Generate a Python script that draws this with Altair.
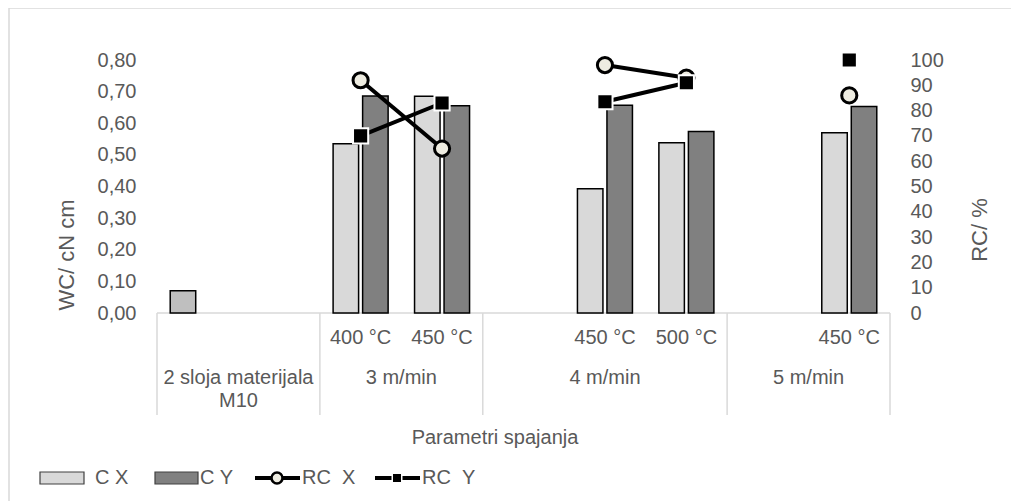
import altair as alt
import pandas as pd

# ---------------- data ----------------
cat_ids = [1, 2, 3, 4, 5, 6, 7, 8, 9]
cat_labels = ["", "", "400 °C", "450 °C", "", "450 °C", "500 °C", "", "450 °C"]
group_line1 = ["2 sloja materijala", "3 m/min", "4 m/min", "5 m/min"]
group_line2 = ["M10", "", "", ""]
group_first = [1, 3, 5, 8]
group_last = [2, 4, 7, 9]

cx = [0.07, None, 0.535, 0.685, None, 0.393, 0.538, None, 0.570]
cy = [None, None, 0.686, 0.655, None, 0.657, 0.574, None, 0.653]
rcx = [None, None, 92, 65, None, 98, 93, None, 86]
rcy = [None, None, 70, 83, None, 83.5, 91, None, 100]

series_names = ["C X", "C Y", "RC\u00a0\u00a0X", "RC\u00a0\u00a0Y"]
x_title = "Parametri spajanja"
y_title = "WC/ cN cm"
y2_title = "RC/ %"

# ---------------- style ----------------
FONT = "Liberation Sans"
TXT = "#595959"
FS = 20
W, H = 733, 253
C_CX, C_CY, C_FIRST = "#d9d9d9", "#808080", "#bfbfbf"
CIRCLE_FILL = "#eeece1"

# ---------------- tables ----------------
bar_rows = []
for name, vals in (("C X", cx), ("C Y", cy)):
    for c, v in zip(cat_ids, vals):
        if v is not None:
            bar_rows.append({"cat": c, "series": name, "value": v})
bar_df = pd.DataFrame(bar_rows)


def line_table(vals):
    rows, seg = [], 0
    for c, v in zip(cat_ids, vals):
        if v is None:
            seg += 1
            continue
        rows.append({"cat": c, "value": v, "seg": seg})
    return pd.DataFrame(rows)


rcx_df = line_table(rcx)
rcy_df = line_table(rcy)

cat_df = pd.DataFrame({"cat": cat_ids, "label": cat_labels})
grp_df = pd.DataFrame({
    "center": [(a + b) / 2 for a, b in zip(group_first, group_last)],
    "l1": group_line1, "l2": group_line2,
})
sep_df = pd.DataFrame({"pos": [f - 0.5 for f in group_first] + [group_last[-1] + 0.5]})
one = pd.DataFrame({"k": [0]})

x_ord = alt.X("cat:O", scale=alt.Scale(domain=cat_ids, paddingInner=0, paddingOuter=0), axis=None)
x_q = lambda f: alt.X(f, type="quantitative",
                      scale=alt.Scale(domain=[0.5, len(cat_ids) + 0.5], nice=False, zero=False), axis=None)

y_left = alt.Y("value:Q", scale=alt.Scale(domain=[0, 0.8], nice=False),
               axis=alt.Axis(values=[0, 0.1, 0.2, 0.3, 0.4, 0.5, 0.6, 0.7, 0.8],
                             labelExpr="replace(format(datum.value, '.2f'), '.', ',')",
                             domain=False, ticks=False, grid=False, labelPadding=21,
                             title=None))
y_right_axis = alt.Y("value:Q", scale=alt.Scale(domain=[0, 100], nice=False),
                     axis=alt.Axis(orient="right", values=list(range(0, 101, 10)),
                                   domain=False, ticks=False, grid=False, labelPadding=20,
                                   labelAlign="left", title=None))
y_right = alt.Y("value:Q", scale=alt.Scale(domain=[0, 100], nice=False), axis=None)

bars = alt.Chart(bar_df).mark_bar(stroke="black", strokeWidth=1.5).encode(
    x=x_ord,
    xOffset=alt.XOffset("series:N", scale=alt.Scale(domain=["C X", "C Y"], paddingInner=0.136, paddingOuter=0.448)),
    y=y_left,
    color=alt.condition(alt.datum.cat == 1, alt.value(C_FIRST),
                        alt.Color("series:N", scale=alt.Scale(domain=["C X", "C Y"], range=[C_CX, C_CY]), legend=None)),
)

rcx_line = alt.Chart(rcx_df).mark_line(color="black", strokeWidth=4).encode(
    x=x_ord, y=y_right_axis, detail="seg:N")
rcx_pts = alt.Chart(rcx_df).mark_point(shape="circle", filled=True, fill=CIRCLE_FILL, stroke="black",
                                       strokeWidth=3, size=230, opacity=1).encode(x=x_ord, y=y_right)
rcy_line = alt.Chart(rcy_df).mark_line(color="black", strokeWidth=4).encode(
    x=x_ord, y=y_right, detail="seg:N")
rcy_pts = alt.Chart(rcy_df).mark_point(shape="square", filled=True, fill="black", stroke="white",
                                       strokeWidth=2, size=230, opacity=1).encode(x=x_ord, y=y_right)

# category axis (two levels)
base_line = alt.Chart(one).mark_rule(color="#d9d9d9", strokeWidth=1.5).encode(
    x=alt.value(0), x2=alt.value(W), y=alt.value(H))
seps = alt.Chart(sep_df).mark_rule(color="#d9d9d9", strokeWidth=1.5).encode(
    x=x_q("pos"), y=alt.value(H), y2=alt.value(H + 102))
cat_text = alt.Chart(cat_df).mark_text(fontSize=FS, color=TXT, font=FONT, baseline="middle").encode(
    x=x_ord, text="label:N", y=alt.value(H + 25))
grp_text1 = alt.Chart(grp_df).mark_text(fontSize=FS, color=TXT, font=FONT, baseline="middle").encode(
    x=x_q("center"), text="l1:N", y=alt.value(H + 65))
grp_text2 = alt.Chart(grp_df).mark_text(fontSize=FS, color=TXT, font=FONT, baseline="middle").encode(
    x=x_q("center"), text="l2:N", y=alt.value(H + 88))

# titles
t_x = alt.Chart(one).mark_text(fontSize=FS, color=TXT, font=FONT, baseline="middle").encode(
    x=alt.value(338), y=alt.value(378), text=alt.value(x_title))
t_y = alt.Chart(one).mark_text(fontSize=FS + 2, color=TXT, font=FONT, baseline="middle", angle=270).encode(
    x=alt.value(-90), y=alt.value(195), text=alt.value(y_title))
t_y2 = alt.Chart(one).mark_text(fontSize=FS + 2, color=TXT, font=FONT, baseline="middle", angle=270).encode(
    x=alt.value(823), y=alt.value(170), text=alt.value(y2_title))

# legend
LY = 418
leg = []
leg.append(alt.Chart(one).mark_rect(fill=C_CX, stroke="#404040", strokeWidth=1.2).encode(
    x=alt.value(-117), x2=alt.value(-73), y=alt.value(LY - 6), y2=alt.value(LY + 6)))
leg.append(alt.Chart(one).mark_rect(fill=C_CY, stroke="#404040", strokeWidth=1.2).encode(
    x=alt.value(-2), x2=alt.value(41), y=alt.value(LY - 6), y2=alt.value(LY + 6)))
leg.append(alt.Chart(one).mark_rule(color="black", strokeWidth=4).encode(
    x=alt.value(98), x2=alt.value(143), y=alt.value(LY)))
leg.append(alt.Chart(one).mark_point(shape="circle", filled=True, fill=CIRCLE_FILL, stroke="black",
                                     strokeWidth=2.5, size=120, opacity=1).encode(x=alt.value(120), y=alt.value(LY)))
leg.append(alt.Chart(one).mark_rule(color="black", strokeWidth=4).encode(
    x=alt.value(218), x2=alt.value(263), y=alt.value(LY)))
leg.append(alt.Chart(one).mark_point(shape="square", filled=True, fill="black", stroke="white",
                                     strokeWidth=1.5, size=90, opacity=1).encode(x=alt.value(240), y=alt.value(LY)))
for xpos, name in zip([-62, 43, 145, 265], series_names):
    leg.append(alt.Chart(one).mark_text(fontSize=FS, color=TXT, font=FONT, align="left", baseline="middle").encode(
        x=alt.value(xpos), y=alt.value(LY), text=alt.value(name)))

# outer frame (left and top edges visible)
frame_l = alt.Chart(one).mark_rule(color="#d9d9d9", strokeWidth=1.5).encode(
    x=alt.value(-148), y=alt.value(-52), y2=alt.value(445))
frame_t = alt.Chart(one).mark_rule(color="#d9d9d9", strokeWidth=1.5).encode(
    x=alt.value(-148), x2=alt.value(900), y=alt.value(-52))

chart = alt.layer(
    frame_l, frame_t, base_line, seps, bars, rcx_line, rcx_pts, rcy_line, rcy_pts,
    cat_text, grp_text1, grp_text2, t_x, t_y, t_y2, *leg
).resolve_scale(
    x="independent", y="independent"
).properties(
    width=W, height=H, autosize="none",
    padding={"left": 149, "top": 52, "right": 121, "bottom": 188},
    background="white",
).configure_view(
    stroke=None
).configure_axis(
    labelFont=FONT, labelFontSize=FS, labelColor=TXT
)

chart.save("out.html", embed_options={"renderer": "svg", "actions": False})
